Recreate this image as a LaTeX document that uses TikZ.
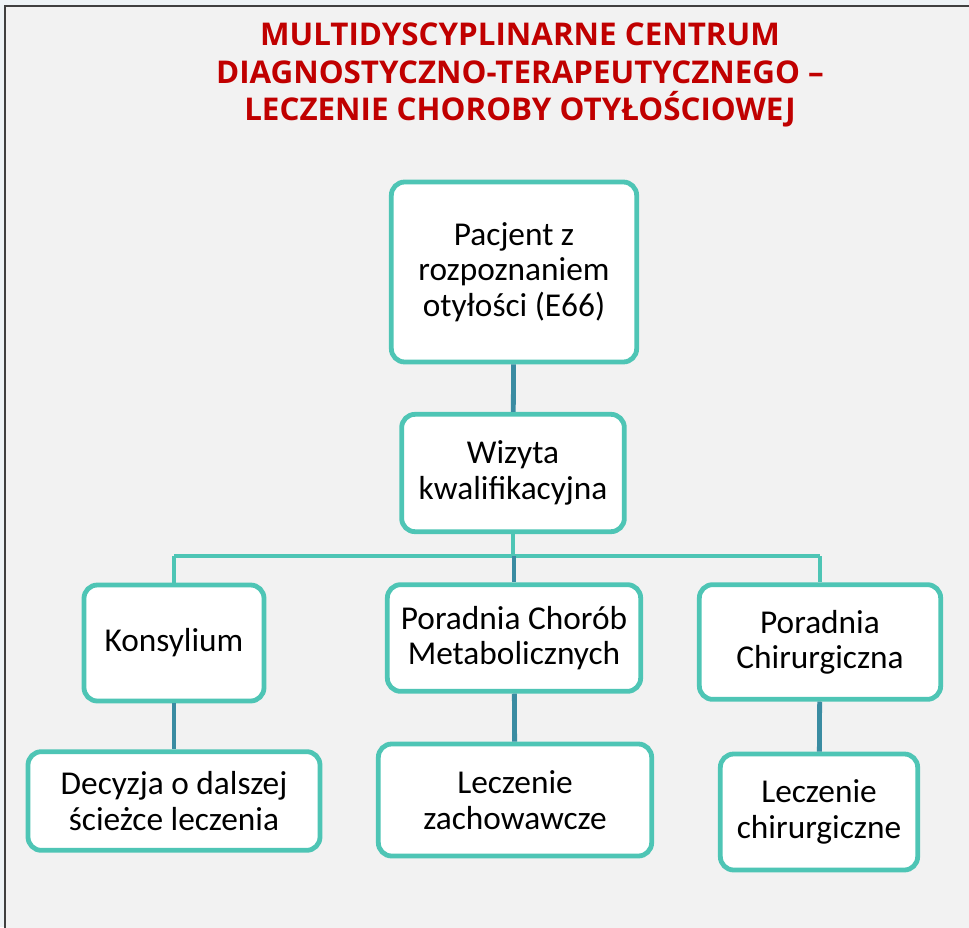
\documentclass[tikz,border=0pt]{standalone}
\usepackage{fontspec}
\setmainfont{Carlito}
\newfontfamily\titlefont{Open Sans}
\usepackage{tikz}
\usetikzlibrary{calc}
\definecolor{boxteal}{RGB}{78, 197, 181}
\definecolor{linkblue}{RGB}{58, 140, 162}
\definecolor{titlered}{RGB}{192, 0, 0}
\definecolor{panel}{RGB}{242, 242, 242}
\definecolor{outside}{RGB}{238, 243, 246}
\definecolor{framegray}{RGB}{64, 64, 64}

\begin{document}
\begin{tikzpicture}[
    x=0.75pt, y=-0.75pt,
    box/.style={rectangle, rounded corners=10pt, draw=boxteal, fill=white,
                line width=3.6pt, align=center, inner sep=2pt,
                font=\fontsize{25}{26.5}\selectfont},
    bus/.style={line width=3.6pt, boxteal},
    stem/.style={line width=3.6pt, linkblue}
]
\useasboundingbox (0,0) rectangle (969,927);
% Background
\fill[outside] (0,0) rectangle (969,927);
\draw[framegray, line width=1.5pt, fill=panel] (5,6) rectangle (990,950);

% Title
\node[font=\titlefont\bfseries\fontsize{23.5}{28.3}\selectfont, text=titlered, align=center]
    (head) at (520,75) {MULTIDYSCYPLINARNE CENTRUM\\DIAGNOSTYCZNO-TERAPEUTYCZNEGO \textendash\\LECZENIE CHOROBY OTYŁOŚCIOWEJ};

% Main column
\node[box, minimum width=184pt, minimum height=135pt] (pacjent) at (514,272)
    {Pacjent z\\rozpoznaniem\\otyłości (E66)};
\node[box, minimum width=167pt, minimum height=88pt] (wizyta) at (513,473)
    {Wizyta\\kwalifikacyjna};

% Clinics
\node[box, minimum width=135pt, minimum height=87pt] (konsylium) at (174,643) {Konsylium};
\node[box, minimum width=190pt, minimum height=80pt] (metabol) at (514,638)
    {Poradnia Chorób\\Metabolicznych};
\node[box, minimum width=181pt, minimum height=86pt] (chirurg) at (820,642)
    {Poradnia\\Chirurgiczna};

% Outcomes
\node[box, minimum width=219pt, minimum height=74pt] (decyzja) at (174,801)
    {Decyzja o dalszej\\ścieżce leczenia};
\node[box, minimum width=205pt, minimum height=84pt] (zachow) at (515,800)
    {Leczenie\\zachowawcze};
\node[box, minimum width=148pt, minimum height=87pt] (operacja) at (819,812)
    {Leczenie\\chirurgiczne};

% Connectors
\coordinate (fork) at (513,556);
\draw[stem] (pacjent) -- (wizyta);
\draw[bus] (wizyta.south) -- (wizyta.south |- fork);
\draw[bus] (konsylium.north |- fork) -- (chirurg.north |- fork);
\draw[bus] (konsylium.north |- fork) -- (konsylium.north);
\draw[bus] (chirurg.north |- fork) -- (chirurg.north);
\draw[stem] (metabol.north |- fork) -- (metabol.north);
\draw[stem] (konsylium) -- (decyzja);
\draw[stem] (metabol) -- (zachow);
\draw[stem] (chirurg) -- (operacja);
\end{tikzpicture}
\end{document}
